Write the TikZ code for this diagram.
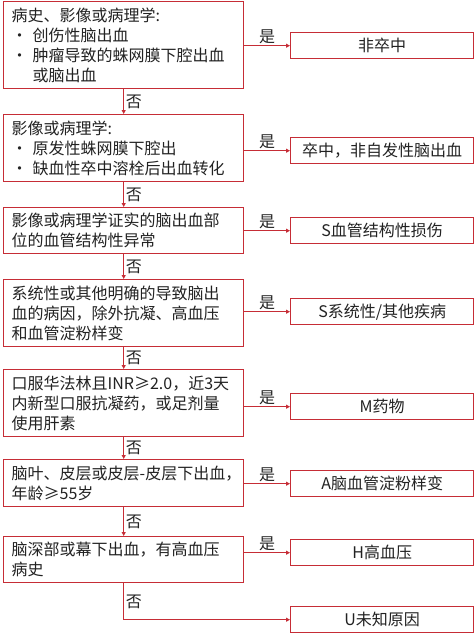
\documentclass[tikz,border=0pt]{standalone}
\usepackage{fontspec}
\setmainfont{Noto Sans CJK SC}
\usepackage{tikz}
\usetikzlibrary{arrows.meta, positioning, calc}
\definecolor{boxred}{HTML}{C62D36}
\definecolor{txtgray}{HTML}{222222}
\newcommand{\bulitem}{\makebox[21pt][l]{•}}

\begin{document}
\begin{tikzpicture}[
    x=1pt, y=-1pt,
    cond/.style={rectangle, draw=boxred, line width=1.4pt, fill=white, anchor=north west, text width=224pt, inner xsep=8pt, inner ysep=0pt, align=left, font=\fontsize{16}{20}\selectfont, text=txtgray},
    result/.style={rectangle, draw=boxred, line width=1.4pt, fill=white, anchor=north west, minimum width=183pt, minimum height=26pt, inner sep=0pt, font=\fontsize{16}{20}\selectfont, text=txtgray},
    link/.style={-{Triangle[length=4pt,width=4pt]}, line width=1.2pt, draw=boxred},
    lbl/.style={font=\fontsize{16}{20}\selectfont, text=txtgray, inner sep=1.5pt}
]
\useasboundingbox (0,0) rectangle (474,638);

% -- LEFT COLUMN: criteria --
\node[cond, minimum height=87pt] (c1) at (3,1) {病史、影像或病理学:\\
\bulitem 创伤性脑出血\\
\bulitem 肿瘤导致的蛛网膜下腔出血\\
\hspace*{21pt}或脑出血};
\node[cond, minimum height=67pt] (c2) at (3,114) {影像或病理学:\\
\bulitem 原发性蛛网膜下腔出\\
\bulitem 缺血性卒中溶栓后出血转化};
\node[cond, minimum height=46pt] (c3) at (3,207) {影像或病理学证实的脑出血部\\位的血管结构性异常};
\node[cond, minimum height=67pt] (c4) at (3,279) {系统性或其他明确的导致脑出\\血的病因，除外抗凝、高血压\\和血管淀粉样变};
\node[cond, minimum height=67pt] (c5) at (3,369) {口服华法林且INR≥2.0，近3天\\内新型口服抗凝药，或足剂量\\使用肝素};
\node[cond, minimum height=47pt] (c6) at (3,459) {\mbox{脑叶、皮层或皮层-皮层下出血，}\\年龄≥55岁};
\node[cond, minimum height=46pt] (c7) at (3,536) {脑深部或幕下出血，有高血压\\病史};

% -- RIGHT COLUMN: results --
\node[result] (r1) at (290,32) {非卒中};
\node[result] (r2) at (290,137) {卒中，非自发性脑出血};
\node[result] (r3) at (290,217) {S血管结构性损伤};
\node[result] (r4) at (290,298) {S系统性/其他疾病};
\node[result] (r5) at (290,393) {M药物};
\node[result] (r6) at (290,470) {A脑血管淀粉样变};
\node[result] (r7) at (290,539) {H高血压};
\node[result] (r8) at (290,606) {U未知原因};

% -- yes branches --
\foreach \i in {1,...,7} {
    \draw[link] (c\i.east |- r\i.west) -- node[lbl, above] {是} (r\i.west);
}

% -- no branches --
\foreach \i/\j in {1/2,2/3,3/4,4/5,5/6,6/7} {
    \draw[link] (c\i.south) -- node[lbl, right] {否} (c\j.north);
}
\draw[link] (c7.south) -- node[lbl, right] {否} (c7.south |- r8.west) -- (r8.west);

\end{tikzpicture}
\end{document}
